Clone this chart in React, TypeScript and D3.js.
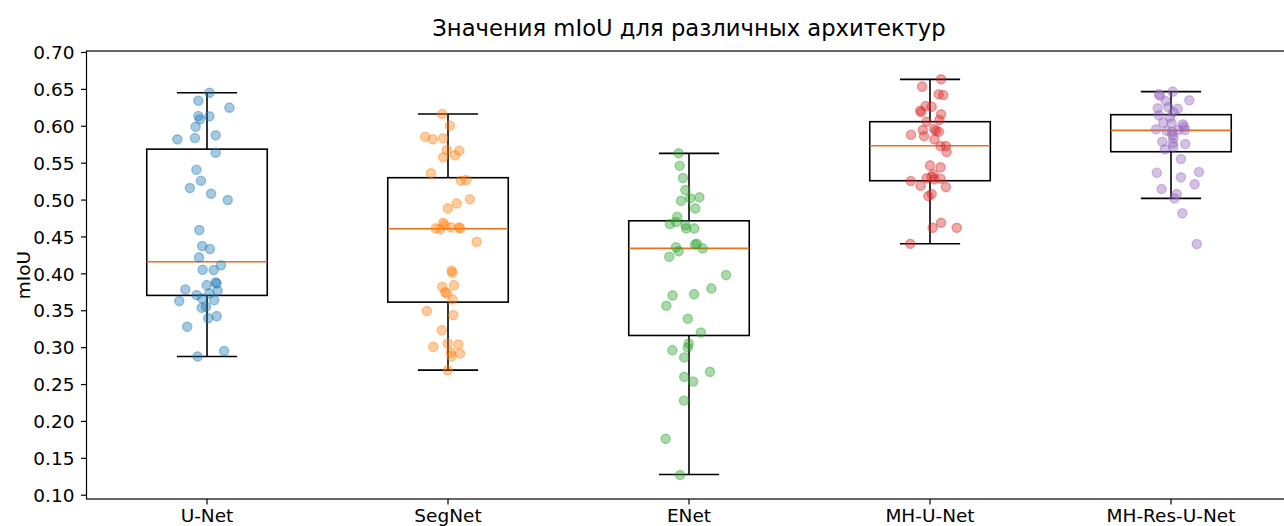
import React from "react";
import * as d3 from "d3";

// Architectures compared
const architectures = ["U-Net", "SegNet", "ENet", "MH-U-Net", "MH-Res-U-Net"];
const colors = ["#1f77b4", "#ff7f0e", "#2ca02c", "#d62728", "#9467bd"];

// Box statistics per architecture: lower whisker, Q1, median, Q3, upper whisker
const whiskerLow = [0.288, 0.2695, 0.128, 0.4407, 0.5023];
const q1 = [0.3708, 0.3617, 0.3165, 0.5262, 0.5655];
const median = [0.4164, 0.4611, 0.4345, 0.5736, 0.5945];
const q3 = [0.569, 0.5303, 0.4719, 0.6062, 0.6157];
const whiskerHigh = [0.6455, 0.6166, 0.5633, 0.6636, 0.6469];

// Per-run mIoU values, each with a horizontal jitter (in category units)
const unetValues = [0.6455, 0.6346, 0.6252, 0.6139, 0.6135, 0.6094, 0.5994, 0.5823, 0.5841, 0.5877, 0.5642, 0.5411, 0.5262, 0.5163, 0.5086, 0.5, 0.4593, 0.4376, 0.4336, 0.4223, 0.4115, 0.4055, 0.4051, 0.387, 0.3847, 0.377, 0.3789, 0.3712, 0.3735, 0.3631, 0.3667, 0.3644, 0.354, 0.3553, 0.34, 0.3427, 0.3282, 0.2953, 0.2881, 0.3885];
const unetJitter = [0.010, -0.036, 0.093, -0.036, 0.010, -0.029, -0.047, -0.123, -0.050, 0.036, 0.036, -0.044, -0.025, -0.071, 0.017, 0.086, -0.032, -0.020, 0.012, -0.033, 0.058, -0.018, 0.028, 0.040, -0.001, 0.044, -0.090, -0.043, 0.010, -0.115, -0.020, 0.030, -0.022, -0.004, 0.005, 0.040, -0.082, 0.071, -0.039, 0.036];

const segnetValues = [0.6166, 0.6008, 0.5858, 0.5823, 0.5836, 0.5678, 0.5668, 0.5579, 0.5606, 0.5362, 0.5262, 0.5271, 0.501, 0.4955, 0.4887, 0.4692, 0.4661, 0.4616, 0.4603, 0.463, 0.463, 0.4616, 0.4434, 0.4041, 0.4014, 0.3825, 0.3847, 0.3753, 0.3735, 0.3654, 0.3495, 0.3441, 0.3237, 0.3011, 0.3057, 0.3043, 0.2935, 0.2921, 0.2885, 0.2695];
const segnetJitter = [-0.024, 0.008, -0.095, -0.063, -0.020, -0.005, 0.047, -0.020, 0.029, -0.071, 0.054, 0.075, 0.091, 0.036, -0.001, -0.020, -0.015, -0.051, -0.033, 0.012, 0.046, 0.050, 0.119, 0.015, 0.018, -0.024, 0.025, -0.012, -0.005, 0.018, -0.088, 0.022, -0.026, -0.061, -0.001, 0.043, 0.012, 0.050, 0.015, -0.001];

const enetValues = [0.5633, 0.5465, 0.5298, 0.5136, 0.499, 0.5023, 0.5037, 0.4887, 0.4774, 0.4675, 0.4702, 0.4661, 0.4616, 0.4616, 0.4399, 0.4408, 0.4345, 0.4359, 0.4308, 0.4231, 0.3983, 0.3803, 0.3708, 0.3725, 0.3567, 0.3391, 0.3206, 0.3057, 0.3003, 0.2966, 0.2867, 0.2672, 0.2604, 0.2541, 0.2284, 0.1764, 0.1275];
const enetJitter = [-0.043, -0.039, -0.025, -0.015, -0.033, 0.005, 0.043, 0.026, -0.049, -0.079, -0.054, -0.015, -0.012, 0.022, 0.025, 0.033, 0.057, -0.054, -0.043, -0.082, 0.154, 0.093, -0.068, 0.021, -0.094, -0.005, 0.049, -0.001, -0.005, -0.069, -0.020, 0.087, -0.020, 0.017, -0.021, -0.097, -0.037];

const mhUnetValues = [0.6636, 0.6537, 0.6433, 0.6424, 0.6275, 0.6265, 0.6211, 0.6193, 0.6162, 0.6085, 0.6062, 0.5949, 0.5963, 0.594, 0.5926, 0.5885, 0.5868, 0.5823, 0.5732, 0.5732, 0.5651, 0.547, 0.5443, 0.5353, 0.5316, 0.5294, 0.5258, 0.5194, 0.5281, 0.5289, 0.5176, 0.5054, 0.5081, 0.4692, 0.4624, 0.4624, 0.4407];
const mhUnetJitter = [0.046, -0.033, 0.036, 0.055, -0.018, 0.007, -0.041, -0.036, 0.046, 0.039, -0.014, -0.030, 0.017, 0.025, 0.037, -0.079, -0.025, 0.018, 0.044, 0.066, 0.069, 0.000, 0.044, 0.014, 0.007, -0.014, -0.080, -0.039, 0.018, 0.044, 0.066, -0.007, 0.007, 0.046, 0.011, 0.111, -0.082];

const mhResUnetValues = [0.6469, 0.6433, 0.6415, 0.6352, 0.6342, 0.6243, 0.6257, 0.6238, 0.6189, 0.6148, 0.6121, 0.6048, 0.604, 0.6026, 0.5994, 0.5959, 0.594, 0.5926, 0.5949, 0.5949, 0.5881, 0.5837, 0.5791, 0.5769, 0.5759, 0.5687, 0.5723, 0.5556, 0.537, 0.538, 0.5308, 0.5213, 0.5149, 0.5081, 0.5023, 0.482, 0.4403];
const mhResUnetJitter = [0.007, -0.050, -0.046, 0.076, -0.022, -0.055, -0.011, 0.028, 0.010, -0.050, -0.004, -0.032, 0.003, 0.049, 0.054, -0.062, -0.018, 0.005, 0.030, 0.058, 0.005, 0.010, -0.036, 0.007, 0.059, -0.025, 0.010, 0.041, -0.059, 0.116, 0.041, 0.098, -0.039, 0.024, 0.014, 0.047, 0.107];

const seriesValues = [unetValues, segnetValues, enetValues, mhUnetValues, mhResUnetValues];
const seriesJitter = [unetJitter, segnetJitter, enetJitter, mhUnetJitter, mhResUnetJitter];

const yTicks = [0.1, 0.15, 0.2, 0.25, 0.3, 0.35, 0.4, 0.45, 0.5, 0.55, 0.6, 0.65, 0.7];

const title = "Значения mIoU для различных архитектур";
const yLabel = "mIoU";

const W = 1284;
const H = 526;
const plot = { left: 86.5, right: 1291.5, top: 51, bottom: 499 };
const font = "'DejaVu Sans', sans-serif";
const tickFont = 18.5;
const titleFont = 22.7;

export default function App() {
  const x = d3.scaleLinear().domain([0.5, 5.5]).range([plot.left, plot.right]);
  const y = d3.scaleLinear().domain([0.0949, 0.702]).range([plot.bottom, plot.top]);
  const boxHalf = x(1.25) - x(1);
  const capHalf = boxHalf / 2;
  const fmt = d3.format(".2f");

  return (
    <svg
      width={W}
      height={H}
      style={{ position: "absolute", left: 0, top: 0, background: "#fff" }}
      fontFamily={font}
    >
      <rect x={0} y={0} width={W} height={H} fill="#fff" />

      {/* boxes */}
      {architectures.map((name, i) => {
        const cx = x(i + 1);
        return (
          <g key={name} fill="none">
            <line x1={cx} x2={cx} y1={y(q1[i])} y2={y(whiskerLow[i])} stroke="#000" strokeWidth={1.6} />
            <line x1={cx} x2={cx} y1={y(q3[i])} y2={y(whiskerHigh[i])} stroke="#000" strokeWidth={1.6} />
            <line x1={cx - capHalf} x2={cx + capHalf} y1={y(whiskerLow[i])} y2={y(whiskerLow[i])} stroke="#000" strokeWidth={1.6} />
            <line x1={cx - capHalf} x2={cx + capHalf} y1={y(whiskerHigh[i])} y2={y(whiskerHigh[i])} stroke="#000" strokeWidth={1.6} />
            <rect
              x={cx - boxHalf}
              y={y(q3[i])}
              width={boxHalf * 2}
              height={y(q1[i]) - y(q3[i])}
              stroke="#000"
              strokeWidth={1.6}
            />
            <line x1={cx - boxHalf} x2={cx + boxHalf} y1={y(median[i])} y2={y(median[i])} stroke="#e8711a" strokeWidth={1.6} />
          </g>
        );
      })}

      {/* jittered runs */}
      {seriesValues.map((vals, i) => (
        <g key={"pts" + i}>
          {vals.map((v, j) => (
            <circle
              key={j}
              cx={x(i + 1 + seriesJitter[i][j])}
              cy={y(v)}
              r={4.6}
              fill={colors[i]}
              fillOpacity={0.4}
              stroke={colors[i]}
              strokeOpacity={0.4}
              strokeWidth={1.4}
            />
          ))}
        </g>
      ))}

      {/* frame */}
      <rect
        x={plot.left}
        y={plot.top}
        width={plot.right - plot.left}
        height={plot.bottom - plot.top}
        fill="none"
        stroke="#000"
        strokeWidth={1.2}
      />

      {/* y axis */}
      {yTicks.map((t) => (
        <g key={t}>
          <line x1={plot.left - 5.5} x2={plot.left} y1={y(t)} y2={y(t)} stroke="#000" strokeWidth={1.2} />
          <text x={plot.left - 12} y={y(t)} dy="0.36em" textAnchor="end" fontSize={tickFont} fill="#000">
            {fmt(t)}
          </text>
        </g>
      ))}

      {/* x axis */}
      {architectures.map((name, i) => (
        <g key={"xt" + name}>
          <line x1={x(i + 1)} x2={x(i + 1)} y1={plot.bottom} y2={plot.bottom + 5.5} stroke="#000" strokeWidth={1.2} />
          <text x={x(i + 1)} y={plot.bottom + 22.5} textAnchor="middle" fontSize={tickFont} fill="#000">
            {name}
          </text>
        </g>
      ))}

      <text
        transform={`translate(${30},${(plot.top + plot.bottom) / 2}) rotate(-90)`}
        textAnchor="middle"
        fontSize={tickFont}
        fill="#000"
      >
        {yLabel}
      </text>

      <text x={(plot.left + plot.right) / 2} y={36} textAnchor="middle" fontSize={titleFont} fill="#000">
        {title}
      </text>
    </svg>
  );
}
